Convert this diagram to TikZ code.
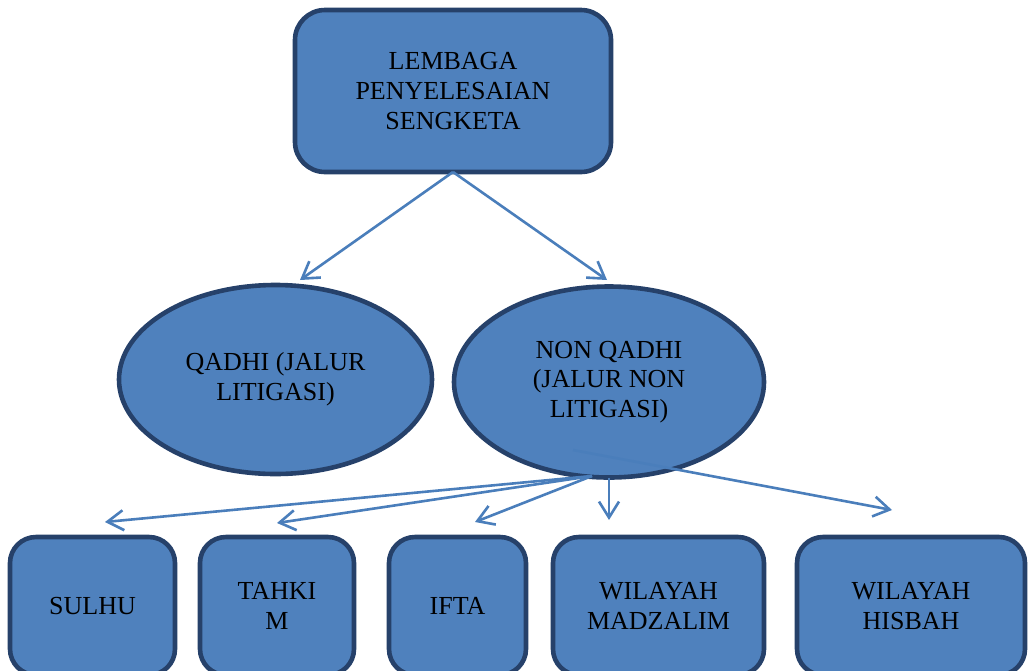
\documentclass[tikz,border=0pt]{standalone}
\usepackage{fontspec}
\setmainfont{Liberation Serif}
\usepackage{tikz}
\usetikzlibrary{arrows.meta,shapes.geometric}
\definecolor{boxblue}{HTML}{4F81BD}
\definecolor{boxrim}{HTML}{26416A}
\definecolor{linkblue}{HTML}{4A7EBB}

\begin{document}
\begin{tikzpicture}[x=0.5pt, y=-0.5pt,
  box/.style={draw=boxrim, fill=boxblue, line width=2.3pt, rounded corners=13pt,
    align=center, inner sep=0pt, outer sep=0pt, font=\fontsize{13}{15}\selectfont},
  oval/.style={ellipse, draw=boxrim, fill=boxblue, line width=2.3pt,
    align=center, inner sep=0pt, outer sep=0pt, font=\fontsize{13}{14.8}\selectfont},
  link/.style={draw=linkblue, line width=1.3pt, -{Straight Barb[length=8pt,width=10pt]}}]
  \clip (0,0) rectangle (1032,670);

  \node[box, rounded corners=15pt, minimum width=158pt, minimum height=81pt] (top) at (453,91)
    {LEMBAGA\\PENYELESAIAN\\SENGKETA};

  \node[oval, minimum width=156.5pt, minimum height=94.5pt] (qadhi) at (275.5,379.5)
    {QADHI (JALUR\\LITIGASI)};
  \node[oval, minimum width=155pt, minimum height=95.5pt] (nonq) at (609,382)
    {NON QADHI\\(JALUR NON\\LITIGASI)};

  \node[box, minimum width=82.5pt, minimum height=69pt] (sulhu) at (92.5,606) {SULHU};
  \node[box, minimum width=77pt, minimum height=69pt] (tahkim) at (277,606) {TAHKI\\M};
  \node[box, minimum width=68.5pt, minimum height=69pt] (ifta) at (457.5,606) {IFTA};
  \node[box, minimum width=105.5pt, minimum height=69pt] (madz) at (658.5,606) {WILAYAH\\MADZALIM};
  \node[box, minimum width=114pt, minimum height=69pt] (hisbah) at (911,606) {WILAYAH\\HISBAH};

  \coordinate (fan) at (592,476);
  \coordinate (mid) at (573,450);
  \coordinate (toqadhi) at (300,280);
  \coordinate (tononq) at (607,280);
  \coordinate (tosulhu) at (105,522);
  \coordinate (totahkim) at (277,523);
  \coordinate (toifta) at (475,522);
  \coordinate (tomadz) at (609,520);
  \coordinate (tohisbah) at (892,510);

  \draw[link] (top.south) -- (toqadhi);
  \draw[link] (top.south) -- (tononq);
  \draw[link] (fan) -- (tosulhu);
  \draw[link] (fan) -- (totahkim);
  \draw[link] (fan) -- (toifta);
  \draw[link] (nonq.south) -- (tomadz);
  \draw[link] (mid) -- (tohisbah);
\end{tikzpicture}
\end{document}
